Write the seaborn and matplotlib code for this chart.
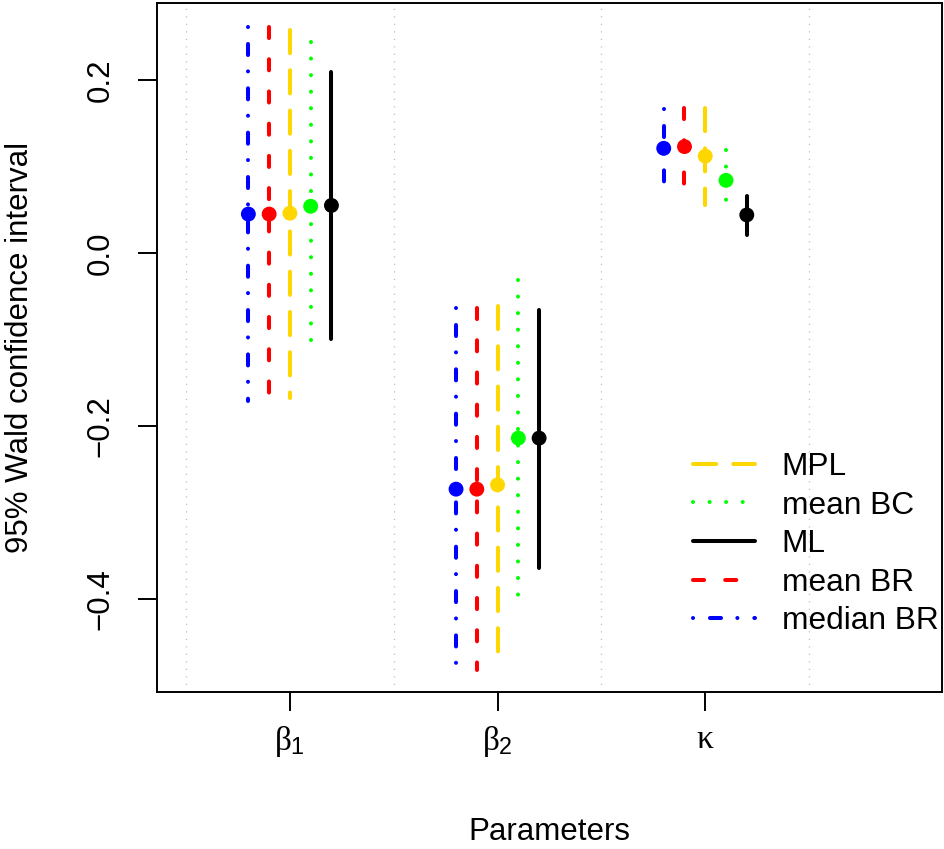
import numpy as np
import pandas as pd
import matplotlib
matplotlib.use("Agg")
import matplotlib.pyplot as plt
from matplotlib.lines import Line2D
import seaborn as sns

# ---- data ----
params = ["β1", "β2", "κ"]
param_labels = [r"$\beta_{\mathsf{1}}$", r"$\beta_{\mathsf{2}}$", r"$\kappa$"]
methods = ["median BR", "mean BR", "MPL", "mean BC", "ML"]
offsets = [-0.2, -0.1, 0.0, 0.1, 0.2]
colors = ["#0000FF", "#FF0000", "#FFD700", "#00FF00", "#000000"]

est_median_br = [0.045, -0.273, 0.121]
low_median_br = [-0.171, -0.477, 0.077]
up_median_br = [0.261, -0.064, 0.166]

est_mean_br = [0.045, -0.273, 0.123]
low_mean_br = [-0.164, -0.482, 0.077]
up_mean_br = [0.261, -0.064, 0.168]

est_mpl = [0.046, -0.268, 0.112]
low_mpl = [-0.168, -0.462, 0.055]
up_mpl = [0.258, -0.061, 0.168]

est_mean_bc = [0.054, -0.214, 0.084]
low_mean_bc = [-0.119, -0.395, 0.054]
up_mean_bc = [0.244, -0.031, 0.119]

est_ml = [0.055, -0.214, 0.044]
low_ml = [-0.100, -0.364, 0.021]
up_ml = [0.209, -0.066, 0.066]

legend_order = ["MPL", "mean BC", "ML", "mean BR", "median BR"]

# ---- styles ----
lw = 2.9
styles = {
    "median BR": (0, (0.01, 4.2, 2.75, 4.05)),
    "mean BR": (0, (2.75, 5.25)),
    "MPL": (0, (5.75, 4.25)),
    "mean BC": (0, (0.01, 4.1)),
    "ML": "solid",
}

ests = [est_median_br, est_mean_br, est_mpl, est_mean_bc, est_ml]
lows = [low_median_br, low_mean_br, low_mpl, low_mean_bc, low_ml]
ups = [up_median_br, up_mean_br, up_mpl, up_mean_bc, up_ml]

rows = []
for m, off, e, lo, up in zip(methods, offsets, ests, lows, ups):
    for i, p in enumerate(params):
        rows.append({"method": m, "param": p, "x": i + 1 + off,
                     "est": e[i], "low": lo[i], "up": up[i]})
df = pd.DataFrame(rows)

sns.set_theme(style="white")
plt.rcParams["font.family"] = ["Liberation Sans", "DejaVu Sans"]
plt.rcParams["mathtext.fontset"] = "custom"
plt.rcParams["mathtext.rm"] = "Liberation Serif"
plt.rcParams["mathtext.it"] = "Liberation Serif"
plt.rcParams["mathtext.sf"] = "Liberation Sans"
plt.rcParams["text.color"] = "black"
plt.rcParams["axes.labelcolor"] = "black"
plt.rcParams["xtick.color"] = "black"
plt.rcParams["ytick.color"] = "black"

fig = plt.figure(figsize=(9.44, 8.49), dpi=100)
ax = fig.add_axes([157 / 944, 1 - 692 / 849, (942 - 157) / 944, (692 - 3) / 849])

for xg in [0.5, 1.5, 2.5, 3.5]:
    ax.axvline(xg, color="#BEBEBE", lw=0.9, linestyle=(0, (1, 5)), zorder=0)

palette = dict(zip(methods, colors))
for m in methods:
    sub = df[df["method"] == m]
    for _, r in sub.iterrows():
        ax.plot([r["x"], r["x"]], [r["up"], r["low"]], color=palette[m], lw=lw,
                linestyle=styles[m], dash_capstyle="round", solid_capstyle="round", zorder=2)

sns.scatterplot(data=df, x="x", y="est", hue="method", palette=palette, s=115,
                edgecolor="none", legend=False, ax=ax, zorder=3)

ax.set_xlim(0.36, 4.14)
ax.set_ylim(-0.5075, 0.289)
ax.set_xticks([1, 2, 3])
ax.set_xticklabels(param_labels, fontsize=24, color="black")
ax.set_yticks([-0.4, -0.2, 0.0, 0.2])
ax.set_yticklabels(["\u22120.4", "\u22120.2", "0.0", "0.2"], rotation=90, va="center",
                   fontsize=22.5, color="black")
ax.tick_params(axis="both", direction="out", length=14, width=1.4, color="black",
               left=True, bottom=True)
ax.tick_params(axis="y", pad=16)
ax.tick_params(axis="x", pad=9)
for s in ax.spines.values():
    s.set_visible(True)
    s.set_color("black")
    s.set_linewidth(1.4)

ax.set_xlabel("Parameters", fontsize=22.5, labelpad=42, color="black")
ax.set_ylabel("95% Wald confidence interval", fontsize=22.5, labelpad=36, color="black")

handles = [Line2D([0], [0], color=palette[m], lw=lw, linestyle=styles[m],
                  dash_capstyle="round", solid_capstyle="round") for m in legend_order]
fig.legend(handles, legend_order, loc="upper left", bbox_to_anchor=(693 / 944, 1 - 452 / 849),
           frameon=False, fontsize=22.8, handlelength=1.95, handletextpad=0.85,
           labelspacing=0.27, borderpad=0, borderaxespad=0)

fig.savefig("out.png", dpi=100)
